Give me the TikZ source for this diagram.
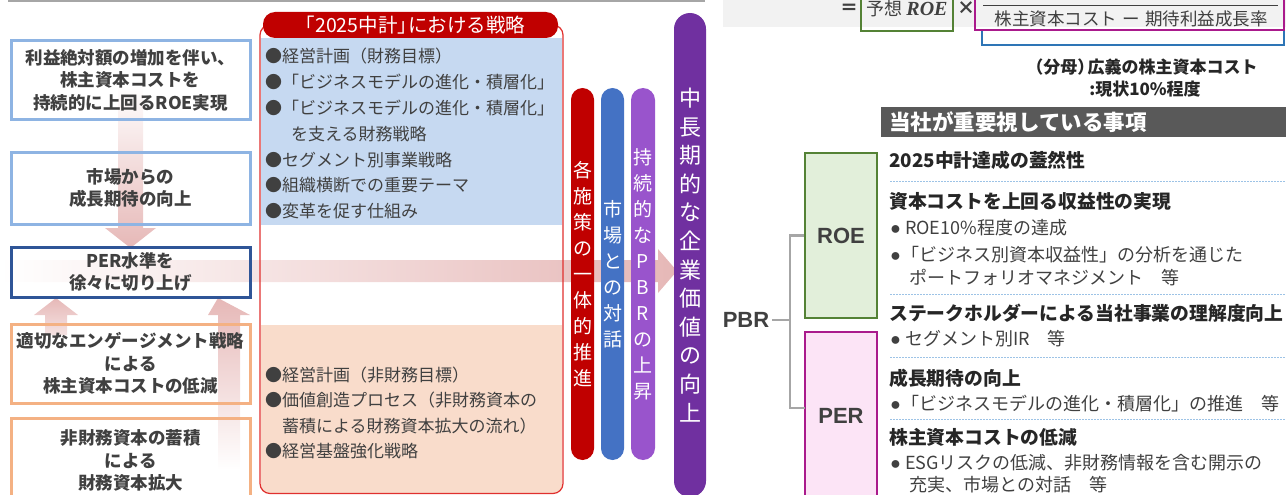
\documentclass[tikz,border=0pt]{standalone}
\usepackage{fontspec}
\setmainfont{Noto Sans CJK JP}
\newfontfamily\arialf{Liberation Sans}
\newfontfamily\tnrf{Liberation Serif}
\definecolor{txt}{HTML}{404040}
\definecolor{dtxt}{HTML}{262626}
\definecolor{lblue}{HTML}{8EB4E3}
\definecolor{dblue}{HTML}{2F5597}
\definecolor{peachb}{HTML}{F4B183}
\definecolor{arrowpink}{HTML}{E6B8B7}
\definecolor{frred}{HTML}{E0302E}
\definecolor{titlered}{HTML}{C00000}
\definecolor{bluefill}{HTML}{C6D9F1}
\definecolor{peachfill}{HTML}{F9DCCB}
\definecolor{pillblue}{HTML}{4472C4}
\definecolor{pillpurple}{HTML}{9954CC}
\definecolor{bigpurple}{HTML}{7030A0}
\definecolor{hdrgray}{HTML}{595959}
\definecolor{roegreen}{HTML}{548235}
\definecolor{roefill}{HTML}{E2EFDA}
\definecolor{permag}{HTML}{AA1A8C}
\definecolor{perfill}{HTML}{FCE4F6}
\definecolor{bracketblue}{HTML}{2E75B6}
\definecolor{topgray}{HTML}{F2F2F2}
\definecolor{linegray}{HTML}{A6A6A6}
\definecolor{dotblue}{HTML}{9DC3E6}
\begin{document}
\begin{tikzpicture}[x=1pt,y=-1pt,
  lbox/.style={draw, line width=3pt, minimum width=239pt, inner sep=0pt, align=center, text=txt, font=\fontsize{17.5}{22.5}\selectfont\bfseries},
  mtxt/.style={anchor=west, inner sep=0pt, text=txt, font=\fontsize{17}{20}\selectfont},
  rtxt/.style={anchor=west, inner sep=0pt, text=txt, font=\fontsize{18}{20}\selectfont},
  rhead/.style={anchor=west, inner sep=0pt, text=dtxt, font=\fontsize{18.8}{20}\selectfont\bfseries},
  pillbox/.style={rounded corners=11.5pt, minimum width=23pt, minimum height=372pt, inner sep=0pt, text=white, align=center, font=\fontsize{19}{26}\selectfont},
  brk/.style={draw=linegray, line width=2.5pt},
  dotln/.style={draw=dotblue, line width=1pt, dash pattern=on 1.5pt off 1.5pt}
]
\useasboundingbox (0,0) rectangle (1286,495);
\clip (0,0) rectangle (1286,495);

% top rules
\draw[linegray, line width=2pt] (8,1) -- (705,1);
\fill[topgray] (723,0) rectangle (1286,27);

% arrows (behind)
\shade[left color=white, right color=arrowpink]
  (0,260) -- (658,260) -- (658,249) -- (677,271) -- (658,293) -- (658,282) -- (0,282) -- cycle;
\shade[top color=white, bottom color=arrowpink]
  (118,85) -- (143,85) -- (143,228) -- (156,228) -- (130.5,248) -- (105,228) -- (118,228) -- cycle;
\shade[top color=arrowpink, bottom color=white]
  (218,298) -- (250,315) -- (240,315) -- (240,470) -- (218,470) -- (218,315) -- (208,315) -- cycle;
\shade[top color=arrowpink, bottom color=arrowpink!40]
  (56,298) -- (78,315) -- (67,315) -- (67,335) -- (45,335) -- (45,315) -- (34,315) -- cycle;

% left boxes
\node[lbox, draw=lblue, minimum height=78pt] (b1) at (130.5,80)
  {利益絶対額の増加を伴い、\\株主資本コストを\\持続的に上回るROE実現};
\node[lbox, draw=lblue, minimum height=72pt] (b2) at (130.5,188)
  {市場からの\\成長期待の向上};
\node[lbox, draw=dblue, minimum height=50pt] (b3) at (130.5,272)
  {PER水準を\\徐々に切り上げ};
\node[lbox, draw=peachb, minimum height=79pt] (b4) at (130.5,363.5)
  {適切なエンゲージメント戦略\\による\\株主資本コストの低減};
\node[lbox, draw=peachb, minimum height=84pt] (b5) at (130.5,460.5)
  {非財務資本の蓄積\\による\\財務資本拡大};

% middle frame
\fill[bluefill] (261,38) rectangle (562,225);
\begin{scope}
  \clip[rounded corners=10pt] (260,25) rectangle (563,493.5);
  \fill[peachfill] (261,325) rectangle (562,495);
\end{scope}
\draw[frred, line width=1.2pt, rounded corners=10pt] (260,25) rectangle (563,493.5);
\node[fill=titlered, rounded corners=12pt, minimum width=295pt, minimum height=26pt, inner sep=0pt, text=white, font=\fontsize{19.5}{20}\selectfont] (title) at (410.5,25) {「2025中計」\kern-0.45em における戦略};

\node[mtxt] (m1) at (265,56.5) {●経営計画（財務目標）};
\node[mtxt] (m2) at (265,82.3) {●「ビジネスモデルの進化・積層化」};
\node[mtxt] (m3) at (265,108.1) {●「ビジネスモデルの進化・積層化」};
\node[mtxt] (m4) at (291,133.9) {を支える財務戦略};
\node[mtxt] (m5) at (265,159.7) {●セグメント別事業戦略};
\node[mtxt] (m6) at (265,185.5) {●組織横断での重要テーマ};
\node[mtxt] (m7) at (265,211.3) {●変革を促す仕組み};

\node[mtxt] (n1) at (265,375) {●経営計画（非財務目標）};
\node[mtxt] (n2) at (265,400.5) {●価値創造プロセス（非財務資本の};
\node[mtxt] (n3) at (282,426) {蓄積による財務資本拡大の流れ）};
\node[mtxt] (n4) at (265,451) {●経営基盤強化戦略};

% pills
\node[pillbox, fill=titlered] (p1) at (582.5,274) {各\\施\\策\\の\\一\\体\\的\\推\\進};
\node[pillbox, fill=pillblue] (p2) at (612.5,274) {市\\場\\と\\の\\対\\話};
\node[pillbox, fill=pillpurple, minimum width=24pt, rounded corners=12pt] (p3) at (643,274) {持\\続\\的\\な\\P\\B\\R\\の\\上\\昇};
\node[fill=bigpurple, rounded corners=16pt, minimum width=32pt, minimum height=484pt, inner sep=0pt, text=white, align=center, font=\fontsize{22}{28.6}\selectfont] (p4) at (690,255) {中\\長\\期\\的\\な\\企\\業\\価\\値\\の\\向\\上};

% formula
\node[inner sep=0pt, text=txt, font=\fontsize{18}{20}\selectfont\bfseries] (eq) at (849.5,9) {＝};
\draw[roegreen, line width=2.5pt] (861,-2) -- (861,31) -- (953,31) -- (953,-2);
\node[inner sep=0pt, text=txt, font=\fontsize{18}{20}\selectfont] (pr) at (907,9) {予想 {\tnrf\bfseries\itshape\fontsize{20}{20}\selectfont ROE}};
\node[inner sep=0pt, text=txt, font=\fontsize{18}{20}\selectfont\bfseries] (times) at (966,8) {×};
\draw[permag, line width=2.5pt] (975,-2) -- (975,30) -- (1284,30) -- (1284,-2);
\draw[txt, line width=1pt] (983,6) -- (1278,6);
\node[inner sep=0pt, text=txt, font=\fontsize{17.5}{20}\selectfont] (den) at (1131,18.5) {株主資本コスト\kern0.3em ー\kern0.3em 期待利益成長率};
\draw[bracketblue, line width=2.5pt] (982,31) -- (982,45) -- (1284,45) -- (1284,31);
\node[inner sep=0pt, text=dtxt, font=\fontsize{17}{20}\selectfont\bfseries] (bn1) at (1142,67) {（分母）\kern-0.4em 広義の株主資本コスト};
\node[inner sep=0pt, text=dtxt, font=\fontsize{17}{20}\selectfont\bfseries] (bn2) at (1145,89) {:現状10\%程度};

% header
\fill[hdrgray] (881,107) rectangle (1286,137);
\node[anchor=west, inner sep=0pt, text=white, font=\fontsize{21.5}{22}\selectfont\bfseries] (hdr) at (889,122) {当社が重要視している事項};

% ROE / PER / PBR
\node[draw=roegreen, fill=roefill, line width=2.5pt, minimum width=72pt, minimum height=165pt, inner sep=0pt, text=txt, font=\arialf\bfseries\fontsize{22}{22}\selectfont] (roe) at (841,235.5) {ROE};
\node[draw=permag, fill=perfill, line width=2.5pt, minimum width=72pt, minimum height=168pt, inner sep=0pt, text=txt, font=\arialf\bfseries\fontsize{22}{22}\selectfont] (per) at (841,416) {PER};
\node[inner sep=0pt, text=txt, font=\arialf\bfseries\fontsize{22}{22}\selectfont] (pbr) at (746,320) {PBR};
\coordinate (jn) at (790,320);
\coordinate (pk) at (805,408);
\draw[brk] (pbr.east) ++(3,0) -- (jn);
\draw[brk] (roe.west) -| (jn |- pk) -- (pk);

% right list
\node[rhead] (r1) at (889,160) {2025中計達成の蓋然性};
\draw[dotln] (890,181) -- (1286,181);
\node[rhead] (r2) at (889,201) {資本コストを上回る収益性の実現};
\node[rtxt] (r3) at (890,228) {{\arialf ●} ROE10\%程度の達成};
\node[rtxt] (r4) at (890,255) {{\arialf ●}「ビジネス別資本収益性」の分析を通じた};
\node[rtxt] (r5) at (909,278) {ポートフォリオマネジメント　等};
\draw[dotln] (890,294) -- (1286,294);
\node[rhead] (r6) at (889,313) {ステークホルダーによる当社事業の理解度向上};
\node[rtxt] (r7) at (890,339) {{\arialf ●} セグメント別IR　等};
\draw[dotln] (890,357) -- (1286,357);
\node[rhead] (r8) at (889,378) {成長期待の向上};
\node[rtxt] (r9) at (890,404) {{\arialf ●}「ビジネスモデルの進化・積層化」の推進　等};
\draw[dotln] (890,419) -- (1286,419);
\node[rhead] (r10) at (889,437) {株主資本コストの低減};
\node[rtxt] (r11) at (890,463) {{\arialf ●} ESGリスクの低減、非財務情報を含む開示の};
\node[rtxt] (r12) at (909,485) {充実、市場との対話　等};
\end{tikzpicture}
\end{document}
